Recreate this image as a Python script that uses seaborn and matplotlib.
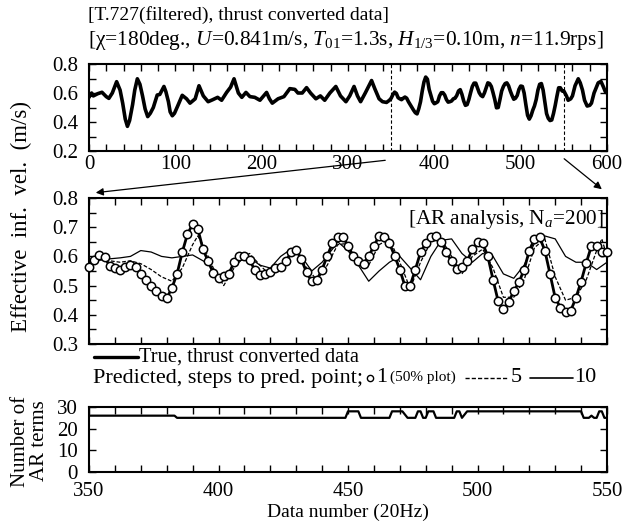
import numpy as np
import pandas as pd
import seaborn as sns
import matplotlib
matplotlib.use("Agg")
import matplotlib.pyplot as plt
from matplotlib.lines import Line2D
from matplotlib.patches import FancyArrowPatch

# ---------------------------
# Data
# ---------------------------
# top panel, true series outside the 350-550 window
top_left_x = [0, 3, 5, 10, 15, 20, 23, 27, 32, 36, 39, 42, 44.5, 47, 50.5, 53, 56, 59, 62, 65,
              68, 71, 74.5, 79, 82, 86.8, 89, 92, 94, 96.5, 99, 102.7, 108, 113, 117, 123, 127.4,
              132.4, 138, 143, 149, 153.6, 159.4, 164, 168, 171, 173, 177, 181.8, 186.4, 192, 198,
              205.7, 209, 212.3, 219, 225.8, 232.6, 238.4, 242, 247, 252, 256.6, 262.8, 268, 273,
              279, 285.9, 291.3, 297.6, 302, 307, 311, 314.6, 320, 327.3, 331, 336, 340, 344.6, 348]
top_left_y = [0.57, 0.60, 0.58, 0.595, 0.605, 0.575, 0.563, 0.60, 0.678, 0.62, 0.53, 0.42, 0.37,
              0.41, 0.52, 0.62, 0.698, 0.66, 0.58, 0.49, 0.437, 0.46, 0.50, 0.586, 0.59, 0.645,
              0.61, 0.54, 0.47, 0.443, 0.46, 0.51, 0.584, 0.56, 0.53, 0.56, 0.65, 0.58, 0.54, 0.553,
              0.57, 0.55, 0.604, 0.64, 0.698, 0.64, 0.60, 0.57, 0.604, 0.575, 0.57, 0.55, 0.604,
              0.56, 0.53, 0.56, 0.575, 0.63, 0.625, 0.60, 0.60, 0.637, 0.60, 0.56, 0.58, 0.55, 0.60,
              0.645, 0.58, 0.54, 0.58, 0.645, 0.58, 0.54, 0.60, 0.686, 0.63, 0.56, 0.54, 0.535, 0.55]
top_right_x = [553, 555, 558, 560, 563, 566.7, 569, 571.6, 574, 577, 580, 582, 585, 589.8, 593,
               596, 598, 600]
top_right_y = [0.58, 0.55, 0.56, 0.58, 0.65, 0.698, 0.67, 0.62, 0.55, 0.51, 0.515, 0.53, 0.60,
               0.67, 0.68, 0.64, 0.61, 0.60]

# middle panel: true data (every 2nd sample, also the 1-step prediction points)
mid_x = list(range(350, 551, 2))
true_mid = [0.564, 0.589, 0.606, 0.597, 0.568, 0.560, 0.554, 0.564, 0.572, 0.564,
            0.540, 0.520, 0.500, 0.481, 0.464, 0.456, 0.492, 0.540, 0.614, 0.676,
            0.710, 0.695, 0.625, 0.583, 0.543, 0.526, 0.532, 0.540, 0.580, 0.602,
            0.602, 0.586, 0.555, 0.537, 0.540, 0.545, 0.560, 0.564, 0.583, 0.614,
            0.623, 0.590, 0.545, 0.515, 0.520, 0.555, 0.602, 0.645, 0.668, 0.668,
            0.636, 0.602, 0.583, 0.575, 0.600, 0.636, 0.670, 0.665, 0.645, 0.602,
            0.555, 0.498, 0.500, 0.555, 0.614, 0.645, 0.665, 0.670, 0.650, 0.614,
            0.583, 0.557, 0.564, 0.583, 0.625, 0.648, 0.645, 0.600, 0.520, 0.446,
            0.420, 0.443, 0.481, 0.511, 0.555, 0.620, 0.660, 0.665, 0.620, 0.540,
            0.458, 0.425, 0.410, 0.414, 0.458, 0.514, 0.578, 0.636, 0.636, 0.614,
            0.614]
pred_1step = true_mid

pred5_x = [350, 354, 358, 362, 366, 370, 374, 378, 382, 386, 390, 392, 394, 398, 402, 406, 410,
           412, 416, 420, 424, 428, 430, 434, 438, 442, 446, 450, 454, 458, 462, 466, 470, 474,
           478, 482, 486, 490, 494, 498, 502, 506, 510, 514, 518, 522, 526, 530, 534, 538, 542,
           546, 548, 550]
pred5_y = [0.58, 0.59, 0.585, 0.58, 0.585, 0.575, 0.555, 0.53, 0.515, 0.56, 0.64, 0.67, 0.64,
           0.56, 0.50, 0.56, 0.60, 0.61, 0.57, 0.535, 0.56, 0.60, 0.625, 0.56, 0.52, 0.57, 0.64,
           0.645, 0.58, 0.57, 0.64, 0.66, 0.58, 0.49, 0.58, 0.65, 0.66, 0.60, 0.54, 0.60, 0.625,
           0.56, 0.46, 0.46, 0.52, 0.63, 0.66, 0.53, 0.45, 0.46, 0.52, 0.62, 0.66, 0.60]

pred10_x = [350, 356, 362, 366, 370, 374, 378, 382, 386, 390, 392, 396, 400, 404, 408, 412, 416,
            420, 424, 428, 432, 436, 440, 444, 446, 450, 454, 458, 462, 466, 470, 474, 478, 482,
            486, 490, 494, 498, 502, 506, 510, 514, 518, 522, 526, 530, 534, 538, 542, 546, 550]
pred10_y = [0.58, 0.59, 0.595, 0.60, 0.62, 0.615, 0.60, 0.595, 0.60, 0.605, 0.595, 0.575, 0.53,
            0.55, 0.59, 0.595, 0.57, 0.56, 0.60, 0.625, 0.60, 0.55, 0.58, 0.625, 0.65, 0.62, 0.57,
            0.515, 0.55, 0.58, 0.60, 0.56, 0.52, 0.60, 0.655, 0.66, 0.61, 0.58, 0.61, 0.60, 0.54,
            0.525, 0.57, 0.645, 0.67, 0.66, 0.60, 0.58, 0.58, 0.555, 0.58]

# bottom panel: number of AR terms
ar_x = [350, 383, 384, 449, 450, 454, 455, 466, 467, 471, 473, 476, 477, 478, 479, 480, 481, 483,
        484, 491, 492, 493, 494, 496, 540, 541, 543, 544, 545, 546, 547, 548, 549, 550]
ar_n = [26, 26, 25, 25, 28, 28, 25, 25, 28, 28, 25, 25, 28, 28, 25, 25, 28, 28,
        25, 25, 28, 28, 25, 28, 28, 25, 25, 26, 25, 25, 28, 28, 25, 25]

zoom_start, zoom_end = 350, 550

# ---------------------------
# Style
# ---------------------------
sns.set_theme(style="ticks")
plt.rcParams["font.family"] = ["Liberation Serif", "DejaVu Serif"]
plt.rcParams["mathtext.fontset"] = "custom"
plt.rcParams["mathtext.rm"] = "Liberation Serif"
plt.rcParams["mathtext.it"] = "Liberation Serif:italic"
plt.rcParams["axes.linewidth"] = 1.5
plt.rcParams["axes.edgecolor"] = "black"
plt.rcParams["text.color"] = "black"

FS = 14    # body text
TFS = 15   # tick labels
W, H = 624, 524

fig = plt.figure(figsize=(6.24, 5.24), dpi=100)


def box(l, t, r, b):
    return [l / W, 1 - b / H, (r - l) / W, (b - t) / H]


def fx(px):
    return px / W


def fy(py):
    return 1 - py / H


ax1 = fig.add_axes(box(89, 64, 607, 151))
ax2 = fig.add_axes(box(89, 198, 607, 344))
ax3 = fig.add_axes(box(89, 407, 607, 472))

for ax in (ax1, ax2, ax3):
    ax.tick_params(which="both", direction="in", top=True, right=True,
                   length=5, width=1.0, colors="black", labelsize=TFS)
    ax.tick_params(axis="x", pad=3)
    ax.tick_params(axis="y", pad=8)
ax3.tick_params(axis="x", pad=7)

# ---------------------------
# Top panel
# ---------------------------
top_df = pd.DataFrame({
    "x": top_left_x + mid_x + top_right_x,
    "y": top_left_y + true_mid + top_right_y,
})
sns.lineplot(data=top_df, x="x", y="y", ax=ax1, color="black", lw=2.6,
             estimator=None, sort=False)
for xv in (zoom_start, zoom_end):
    ax1.axvline(xv, color="black", lw=0.8, ls=(0, (3, 2)))
ax1.set_xlim(0, 600)
ax1.set_ylim(0.2, 0.8)
ax1.set_xticks(range(0, 601, 100))
ax1.set_xticks(range(0, 601, 20), minor=True)
ax1.set_yticks([0.2, 0.4, 0.6, 0.8])
ax1.set_yticks(np.arange(0.2, 0.81, 0.1), minor=True)
ax1.set_yticklabels(["0.2", "0.4", "0.6", "0.8"])
ax1.set_xlabel("")
ax1.set_ylabel("")

fig.text(fx(88), fy(15), "[T.727(filtered), thrust converted data]", fontsize=FS,
         ha="left", va="center")
fig.text(fx(88), fy(40),
         r"[χ=180deg., $U$=0.841m/s, $T_{\rm 01}$=1.3s, $H_{\rm 1/3}$=0.10m, $n$=11.9rps]",
         fontsize=15.4, ha="left", va="center")

# ---------------------------
# Middle panel
# ---------------------------
mid_df = pd.DataFrame({"x": mid_x, "true": true_mid, "p1": pred_1step})
sns.lineplot(x=pred10_x, y=pred10_y, ax=ax2, color="black", lw=0.9,
             estimator=None, sort=False)
sns.lineplot(x=pred5_x, y=pred5_y, ax=ax2, color="black", lw=0.9,
             linestyle=(0, (3, 1.5)), estimator=None, sort=False)
sns.lineplot(data=mid_df, x="x", y="true", ax=ax2, color="black", lw=2.0,
             estimator=None, sort=False)
ax2.plot(mid_df["x"], mid_df["p1"], ls="none", marker="o", ms=6, mfc="white",
         mec="black", mew=1.1, zorder=5, clip_on=False)
ax2.set_xlim(zoom_start, zoom_end)
ax2.set_ylim(0.3, 0.8)
ax2.set_xticks(range(350, 551, 10))
ax2.set_xticklabels([])
ax2.set_yticks(np.arange(0.3, 0.81, 0.1))
ax2.set_yticklabels(["0.3", "0.4", "0.5", "0.6", "0.7", "0.8"])
ax2.set_yticks(np.arange(0.3, 0.81, 0.05), minor=True)
ax2.set_xlabel("")
ax2.set_ylabel("")
ax2.text(0.993, 0.93, r"[AR analysis, N$_{a}$=200]", transform=ax2.transAxes,
         ha="right", va="top", fontsize=15.3)

fig.text(fx(21), fy(217), "Effective  inf.  vel.  (m/s)", rotation=90, fontsize=16.5,
         ha="center", va="center")

# arrows from the top window to the zoomed panel
for start, end in (((388, 160), (93, 193)), ((562, 157), (604, 191))):
    fig.add_artist(FancyArrowPatch((fx(start[0]), fy(start[1])), (fx(end[0]), fy(end[1])),
                                   transform=fig.transFigure, arrowstyle="-|>",
                                   mutation_scale=11, lw=0.9, color="black"))

# legend (hand built)
fig.add_artist(Line2D([fx(94), fx(138)], [fy(357), fy(357)], color="black", lw=2.4,
                      transform=fig.transFigure))
fig.text(fx(139), fy(357), "True, thrust converted data", fontsize=14.8, ha="left",
         va="center")

fig.canvas.draw()
renderer = fig.canvas.get_renderer()
row_y = fy(378)
t = fig.text(fx(93), row_y, "Predicted, steps to pred. point;", fontsize=16,
             ha="left", va="center")
xr = t.get_window_extent(renderer).x1
fig.add_artist(Line2D([fx(xr + 7)], [row_y], ls="none", marker="o", ms=4.5, mfc="white",
                      mec="black", mew=1.0, transform=fig.transFigure))
t = fig.text(fx(xr + 13), row_y, "1", fontsize=16, ha="left", va="center")
xr = t.get_window_extent(renderer).x1
t = fig.text(fx(xr + 3), row_y + 0.002, "(50% plot)", fontsize=11, ha="left", va="center")
xr = t.get_window_extent(renderer).x1
fig.add_artist(Line2D([fx(xr + 9), fx(xr + 51)], [row_y, row_y], color="black", lw=1.0,
                      ls=(0, (3, 1.5)), transform=fig.transFigure))
t = fig.text(fx(xr + 55), row_y, "5", fontsize=16, ha="left", va="center")
xr = t.get_window_extent(renderer).x1
fig.add_artist(Line2D([fx(xr + 8), fx(xr + 51)], [row_y, row_y], color="black", lw=1.2,
                      transform=fig.transFigure))
fig.text(fx(xr + 52), row_y, "10", fontsize=16, ha="left", va="center")

# ---------------------------
# Bottom panel
# ---------------------------
sns.lineplot(x=ar_x, y=ar_n, ax=ax3, color="black", lw=1.6, estimator=None, sort=False)
ax3.set_xlim(zoom_start, zoom_end)
ax3.set_ylim(0, 30)
ax3.set_xticks(range(350, 551, 50))
ax3.set_xticks(range(350, 551, 10), minor=True)
ax3.set_yticks([0, 10, 20, 30])
ax3.set_xlabel("")
ax3.set_ylabel("")
fig.text(fx(348), fy(512), "Data number (20Hz)", fontsize=FS, ha="center", va="center")
fig.text(fx(30), fy(441), "Number of\nAR terms", rotation=90, fontsize=15,
         ha="center", va="center", linespacing=0.95)

fig.savefig("out.png", dpi=100)
plt.close()
